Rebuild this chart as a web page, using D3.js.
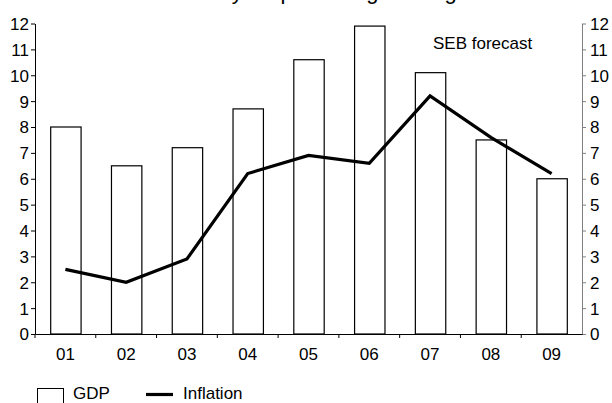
<!DOCTYPE html>
<html><head><meta charset="utf-8">
<script src="https://cdn.jsdelivr.net/npm/d3@7/dist/d3.min.js"></script>
<style>body{margin:0;background:#fff}svg{display:block}text{font-family:Arial,"Liberation Sans",sans-serif;fill:#000}</style>
</head><body><svg id="c" width="612" height="403"></svg>
<script>
const categories = ["01","02","03","04","05","06","07","08","09"];
const gdp = [8.0, 6.5, 7.2, 8.7, 10.6, 11.9, 10.1, 7.5, 6.0];
const inflation = [2.5, 2.0, 2.9, 6.2, 6.9, 6.6, 9.2, 7.6, 6.2];
const yTicks = [0,1,2,3,4,5,6,7,8,9,10,11,12];
const title = "Year-on-year percentage change";
const note = "SEB forecast";

const svg = d3.select("#c");
const L = 35, R = 582, T = 23.5, B = 334;
const fs = 17;
const x = d3.scaleBand().domain(categories).range([L, R]).paddingInner(0).paddingOuter(0);
const y = d3.scaleLinear().domain([0, 12]).range([B, T]);

svg.append("text").attr("x", (L+R)/2).attr("y", -1).attr("text-anchor","middle")
  .style("font-size","22px").text(title);

// bars
svg.append("g").selectAll("rect").data(categories).join("rect")
  .attr("x", d => x(d) + x.bandwidth()*0.25 + 0.5)
  .attr("width", x.bandwidth()*0.5)
  .attr("y", (d,i) => y(gdp[i]))
  .attr("height", (d,i) => B - y(gdp[i]))
  .attr("fill","#fff").attr("stroke","#000").attr("stroke-width",1.2);

// left axis
const la = svg.append("g").attr("transform",`translate(${L},0)`)
  .call(d3.axisLeft(y).tickValues(yTicks).tickSize(4).tickSizeOuter(0).tickPadding(2));
la.select(".domain").attr("stroke","#000");
la.selectAll("line").attr("stroke","#000");
la.selectAll("text").style("font-size",fs+"px").attr("dy","0.35em");

// right axis
const ra = svg.append("g").attr("transform",`translate(${R},0)`)
  .call(d3.axisRight(y).tickValues(yTicks).tickSize(4).tickSizeOuter(0).tickPadding(4));
ra.select(".domain").attr("stroke","#808080");
ra.selectAll("line").attr("stroke","#808080");
ra.selectAll("text").style("font-size",fs+"px").attr("dy","0.35em");

// x axis
const xa = svg.append("g").attr("transform",`translate(0,${B})`)
  .call(d3.axisBottom(x).tickSize(0).tickPadding(14));
xa.select(".domain").attr("stroke","#000");
xa.selectAll("text").style("font-size",fs+"px");
const bounds = categories.map(c => x(c)).concat([R]);
xa.selectAll("line.bt").data(bounds.slice(0,-1)).join("line").attr("class","bt")
  .attr("x1", d => d).attr("x2", d => d).attr("y1",0).attr("y2",4).attr("stroke","#000");

// inflation line
const line = d3.line().x((d,i) => x(categories[i]) + x.bandwidth()/2).y(d => y(d));
svg.append("path").datum(inflation).attr("d", line)
  .attr("fill","none").attr("stroke","#000").attr("stroke-width",3.2).attr("stroke-linejoin","miter");

// note
svg.append("text").attr("x", 433).attr("y", 49).style("font-size",fs+"px").text(note);

// legend
svg.append("rect").attr("x",37.5).attr("y",388.5).attr("width",26).attr("height",16)
  .attr("fill","#fff").attr("stroke","#000").attr("stroke-width",1);
svg.append("text").attr("x",73).attr("y",399).style("font-size",fs+"px").text("GDP");
svg.append("line").attr("x1",146).attr("x2",173).attr("y1",394.5).attr("y2",394.5)
  .attr("stroke","#000").attr("stroke-width",3.2);
svg.append("text").attr("x",183).attr("y",399).style("font-size",fs+"px").text("Inflation");
</script></body></html>
